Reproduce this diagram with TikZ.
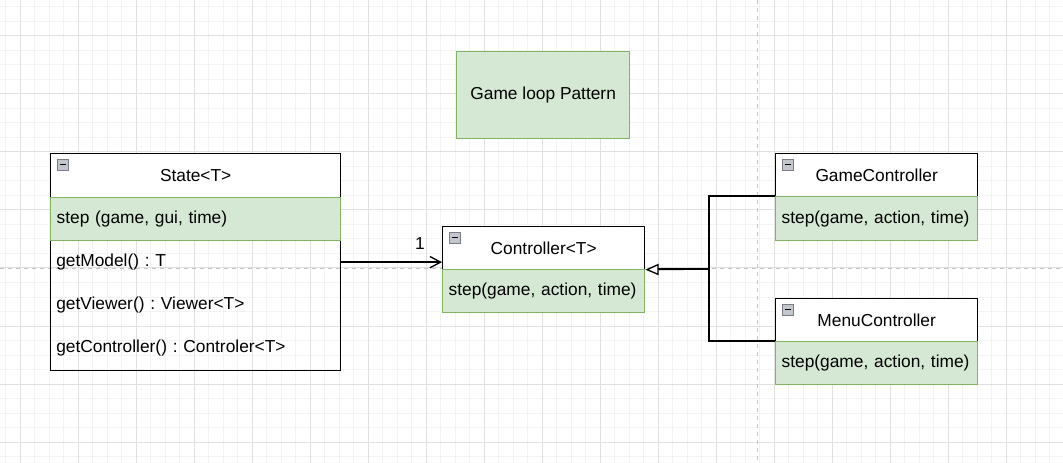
\documentclass[tikz,border=0pt]{standalone}
\usepackage{fontspec}
\setmainfont{Liberation Sans}
\usetikzlibrary{arrows.meta}
\definecolor{lgreen}{HTML}{D5E8D4}
\definecolor{dgreen}{HTML}{82B366}
\definecolor{gridminor}{HTML}{F3F3F3}
\definecolor{gridmajor}{HTML}{E0E0E0}
\definecolor{pagebreak}{HTML}{C4C4C4}
\definecolor{iconfill}{HTML}{C4C6CE}
\definecolor{iconline}{HTML}{7A7C88}
\frenchspacing
\begin{document}
\begin{tikzpicture}[x=0.75pt,y=-0.75pt,
  font=\fontsize{13pt}{15pt}\selectfont,
  outline/.style={draw=black, line width=1pt, anchor=north west, inner sep=0pt},
  header/.style={draw=black, fill=white, line width=1pt, anchor=north west, inner sep=0pt, minimum height=33pt},
  greenrow/.style={draw=dgreen, fill=lgreen, line width=1pt, anchor=north west, inner xsep=4.5pt, inner ysep=0pt, align=left, minimum height=32.25pt},
  plainrow/.style={anchor=north west, inner xsep=4.5pt, inner ysep=0pt, align=left, minimum height=32.25pt},
  icon/.style={draw=iconline, fill=iconfill, line width=0.6pt},
  conn/.style={draw=black, line width=1.1pt},
]
\useasboundingbox (0,0) rectangle (1063,463);
\fill[white] (0,0) rectangle (1063,463);
% grid
\foreach \k in {0,...,73} \draw[gridminor, line width=0.75pt] ({5.5+14.5*\k},0) -- ++(0,463);
\foreach \k in {0,...,32} \draw[gridminor, line width=0.75pt] (0,{7+14.5*\k}) -- ++(1063,0);
\foreach \k in {0,...,18} \draw[gridmajor, line width=0.75pt] ({20+58*\k},0) -- ++(0,463);
\foreach \k in {0,...,7} \draw[gridmajor, line width=0.75pt] (0,{36+58*\k}) -- ++(1063,0);
% page breaks
\draw[pagebreak, line width=0.75pt, dash pattern=on 3pt off 3pt] (757,0) -- (757,463);
\draw[pagebreak, line width=0.75pt, dash pattern=on 3pt off 3pt] (0,269) -- (1063,269);

% title
\node[greenrow, align=center, minimum width=129.75pt, minimum height=65.25pt, inner sep=0pt] (title) at (456,51) {Game loop Pattern};

% State<T>
\node[outline, minimum width=217.5pt, minimum height=162.75pt] (state) at (50,153) {};
\node[header, minimum width=217.5pt] (statehdr) at (50,153) {State<T>};
\node[greenrow, text width=208.5pt] (statestep) at (50,197) {step (game, gui, time)};
\node[plainrow, text width=208.5pt] (statemodel) at (50,240) {getModel() : T};
\node[plainrow, text width=208.5pt] (stateviewer) at (50,283) {getViewer() : Viewer<T>};
\node[plainrow, text width=208.5pt, minimum height=33pt] (statectrl) at (50,326) {getController() : Controler<T>};

% Controller<T>
\node[header, minimum width=151.5pt, minimum height=32.25pt] (ctrlhdr) at (442,226) {Controller<T>};
\node[greenrow, text width=142.5pt] (ctrlstep) at (442,269) {step(game, action, time)};
\node[outline, draw=none, minimum width=151.5pt, minimum height=64.5pt] (ctrl) at (442,226) {};

% GameController
\node[header, minimum width=151.5pt, minimum height=32.25pt] (gchdr) at (775,153) {GameController};
\node[greenrow, text width=142.5pt, minimum height=33pt] (gcstep) at (775,196) {step(game, action, time)};

% MenuController
\node[header, minimum width=151.5pt, minimum height=32.25pt] (mchdr) at (775,298) {MenuController};
\node[greenrow, text width=142.5pt] (mcstep) at (775,341) {step(game, action, time)};

% collapse icons
\foreach \bx/\by in {50/153, 442/226, 775/153, 775/298} {
  \draw[icon] (\bx+7,\by+6) rectangle ++(11,11);
  \draw[line width=1pt] (\bx+9.5,\by+11.5) -- ++(6,0);
}

% association
\draw[conn, -{Straight Barb[length=8pt, width=8.5pt, line width=1pt]}] (state.east) -- (state.east -| ctrl.west);
\node (one) at (420,244) {1};

% generalization
\coordinate (join) at (709,269);
\coordinate (tipbase) at (655,269);
\draw[conn] (gcstep.north west) -| (join) |- (mcstep.north west);
\draw[conn] (join) -- (tipbase);
\draw[conn, -{Triangle[open, fill=white, length=10pt, width=8.5pt, line width=1pt]}] (join) -- (ctrl.east);
\end{tikzpicture}
\end{document}
